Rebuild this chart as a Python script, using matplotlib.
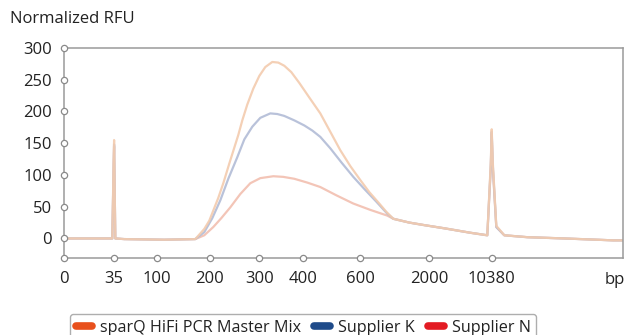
import matplotlib.pyplot as plt
from matplotlib.lines import Line2D
import numpy as np

plt.rcParams['font.family'] = ['Open Sans', 'DejaVu Sans']

# x positions are in axis units (category axis, labels below are bp sizes)
tick_pos = [0, 49.7, 93, 145.7, 195, 238.4, 295.7, 364.7, 427.4]
tick_labels = ['0', '35', '100', '200', '300', '400', '600', '2000', '10380']
y_ticks = [0, 50, 100, 150, 200, 250, 300]

sparq_x = [0, 48, 49.3, 49.8, 51, 60, 100, 131, 140, 145, 149, 154, 159, 165, 170, 174, 178,
           183, 189, 195, 201, 208, 214, 220, 227, 235, 245, 256, 266, 276, 286, 296, 305,
           315, 322, 329, 345, 360, 380, 406, 423, 426.5, 427.4, 428.5, 432, 440, 463, 500,
           549, 559]
sparq_y = [0, 0, 120, 155, 0, -1, -2, -1, 15, 28, 44, 64, 87, 118, 143, 163, 186,
           211, 236, 256, 270, 278, 277, 272, 262, 245, 222, 197, 168, 139, 114, 92, 73,
           55, 42, 31, 25, 21, 16, 9, 5, 120, 172, 120, 20, 5, 2, 0,
           -3, -3]

supk_x = [0, 48, 49.3, 49.8, 51, 60, 100, 131, 140, 148, 156, 164, 173, 180, 188, 196, 206,
          213, 220, 230, 240, 248, 256, 266, 277, 289, 300, 312, 323, 329, 345, 360, 380,
          406, 423, 426.5, 427.4, 428.5, 432, 440, 463, 500, 549, 559]
supk_y = [0, 0, 110, 148, 0, -1, -2, -1, 10, 32, 60, 94, 128, 156, 176, 190, 197,
          196, 193, 186, 178, 170, 160, 142, 120, 97, 78, 58, 39, 31, 25, 21, 16,
          9, 5, 115, 168, 115, 18, 5, 2, 0, -3, -3]

supn_x = [0, 48, 49.3, 49.8, 51, 60, 100, 131, 140, 149, 157, 166, 176, 186, 196, 209,
          219, 230, 243, 256, 272, 289, 306, 323, 329, 345, 360, 380, 406, 423, 426.5,
          427.4, 428.5, 432, 440, 463, 500, 549, 559]
supn_y = [0, 0, 105, 145, 0, -1, -2, -1, 5, 18, 32, 49, 70, 87, 95, 98,
          97, 94, 88, 81, 68, 55, 45, 36, 31, 25, 21, 16, 9, 5, 110,
          165, 110, 18, 5, 2, 0, -3, -3]

fig = plt.figure(figsize=(6.26, 3.35), dpi=100)
ax = fig.add_axes([64.3 / 626, 1 - 257.5 / 335, (623.3 - 64.3) / 626, (257.5 - 48) / 335])

ax.plot(supn_x, supn_y, color='#F2BFB0', lw=1.6, alpha=0.9, solid_joinstyle='round')
ax.plot(supk_x, supk_y, color='#B2BCD6', lw=1.6, alpha=0.9, solid_joinstyle='round')
ax.plot(sparq_x, sparq_y, color='#F3CBAE', lw=1.6, alpha=0.9, solid_joinstyle='round')

ax.set_xlim(0, 559)
ax.set_ylim(-30, 300)
ax.set_xticks(tick_pos)
ax.set_xticklabels(tick_labels)
ax.set_yticks(y_ticks)
ax.tick_params(length=0, labelsize=12, colors='#222222', pad=9)
ax.tick_params(axis='x', pad=10)

for s in ax.spines.values():
    s.set_color('#9a9a9a')
    s.set_linewidth(1.1)

# small open circles on the axes at tick positions
ax.plot(np.zeros(len(y_ticks)), y_ticks, 'o', ms=4.5, mfc='white', mec='#8a8a8a', mew=0.9,
        transform=ax.get_yaxis_transform(), clip_on=False, zorder=5)
ax.plot(tick_pos, np.zeros(len(tick_pos)), 'o', ms=4.5, mfc='white', mec='#8a8a8a', mew=0.9,
        transform=ax.get_xaxis_transform(), clip_on=False, zorder=5)

fig.text(10 / 626, 1 - 19 / 335, 'Normalized RFU', fontsize=12, color='#222222', va='center')
fig.text(625 / 626, 1 - 280 / 335, 'bp', fontsize=12, color='#222222', va='center', ha='right')

handles = [Line2D([0], [0], color=c, lw=5.5, solid_capstyle='round')
           for c in ['#E8501C', '#1F4B8A', '#E31B23']]
leg = fig.legend(handles, ['sparQ HiFi PCR Master Mix', 'Supplier K', 'Supplier N'],
                 loc='upper left', bbox_to_anchor=(62 / 626, 1 - 306 / 335), ncol=3,
                 fontsize=11.6, frameon=True, fancybox=True, handlelength=1.0,
                 handletextpad=0.5, columnspacing=0.8, borderpad=0.35)
leg.get_frame().set_edgecolor('#9a9a9a')
leg.get_frame().set_linewidth(1.0)
for t in leg.get_texts():
    t.set_color('#222222')

fig.savefig('out.png', dpi=100)
